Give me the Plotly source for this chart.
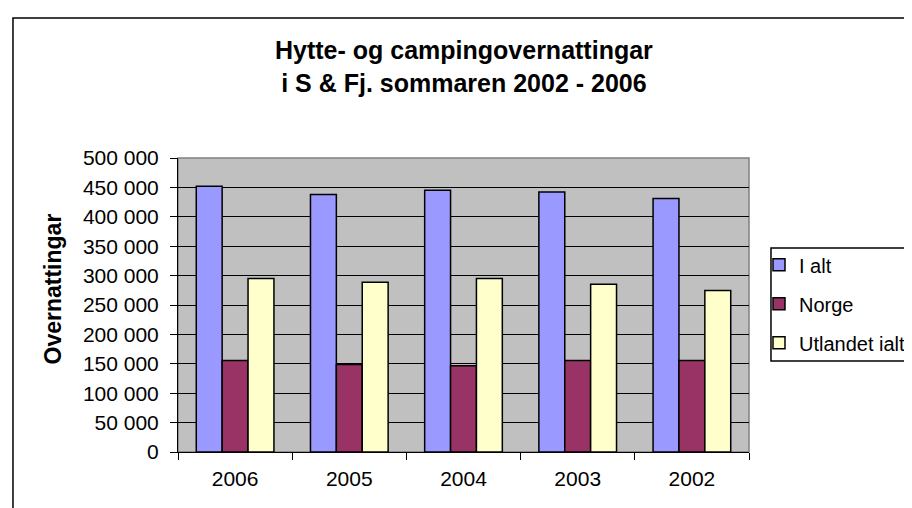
import plotly.graph_objects as go

years = ["2006", "2005", "2004", "2003", "2002"]
i_alt = [452000, 438000, 445000, 442000, 431000]
norge = [155500, 149000, 146500, 155500, 155500]
utlandet = [295000, 288500, 295000, 285500, 274500]

series_names = ["I alt", "Norge", "Utlandet ialt"]
colors = ["#9999FF", "#993366", "#FFFFCC"]

FONT = "Liberation Sans, Arial, sans-serif"

fig = go.Figure()
for name, vals, col in zip(series_names, [i_alt, norge, utlandet], colors):
    fig.add_trace(go.Bar(
        x=years, y=vals, name=name, legendgroup=name,
        marker=dict(color=col, line=dict(color="black", width=1.5)),
    ))

fig.update_layout(
    width=912, height=508,
    margin=dict(l=170, r=171, t=150, b=64, autoexpand=False),
    paper_bgcolor="white",
    plot_bgcolor="#C0C0C0",
    barmode="group",
    bargap=0.32,
    bargroupgap=0,
    separators=", ",
    font=dict(family=FONT, size=21, color="black"),
    showlegend=True,
    legend=dict(
        x=1.0175, y=0.703, xanchor="left", yanchor="top",
        bgcolor="rgba(0,0,0,0)", borderwidth=0,
        font=dict(size=20), tracegroupgap=10, itemwidth=30,
    ),
    xaxis=dict(
        showgrid=False, ticks="outside", tickson="boundaries", ticklen=7,
        tickcolor="black", showline=True, linecolor="black", linewidth=1,
        tickfont=dict(size=21), automargin=False, ticklabelstandoff=8,
    ),
    yaxis=dict(
        range=[0, 500000], dtick=50000, tickformat=",d",
        showgrid=True, gridcolor="black", gridwidth=1,
        ticks="outside", ticklen=7, tickcolor="black",
        showline=True, linecolor="black", linewidth=1,
        tickfont=dict(size=21), zeroline=False, automargin=False,
        ticklabelstandoff=7,
    ),
    shapes=[
        # plot area border (gray top/right)
        dict(type="rect", xref="paper", yref="paper", x0=0, x1=1, y0=0, y1=1,
             line=dict(color="#808080", width=1.5), layer="below"),
        # outer chart frame (runs off the right and bottom edges)
        dict(type="rect", xref="paper", yref="paper",
             x0=-0.289, x1=1.4, y0=-0.4, y1=1.476,
             line=dict(color="black", width=1.5)),
        # legend box
        dict(type="rect", xref="paper", yref="paper",
             x0=1.0385, x1=1.4, y0=0.3095, y1=0.694,
             line=dict(color="black", width=1.5), fillcolor="white",
             layer="below"),
    ],
    annotations=[
        dict(text="<b>Hytte- og campingovernattingar<br>i S &amp; Fj. sommaren 2002 - 2006</b>",
             xref="paper", yref="paper", x=0.5, y=1.31,
             xanchor="center", yanchor="middle", showarrow=False,
             font=dict(size=25)),
        dict(text="<b>Overnattingar</b>", textangle=-90,
             xref="paper", yref="paper", x=-0.219, y=0.556,
             xanchor="center", yanchor="middle", showarrow=False,
             font=dict(size=23)),
    ],
)

fig.write_html("out.html")
